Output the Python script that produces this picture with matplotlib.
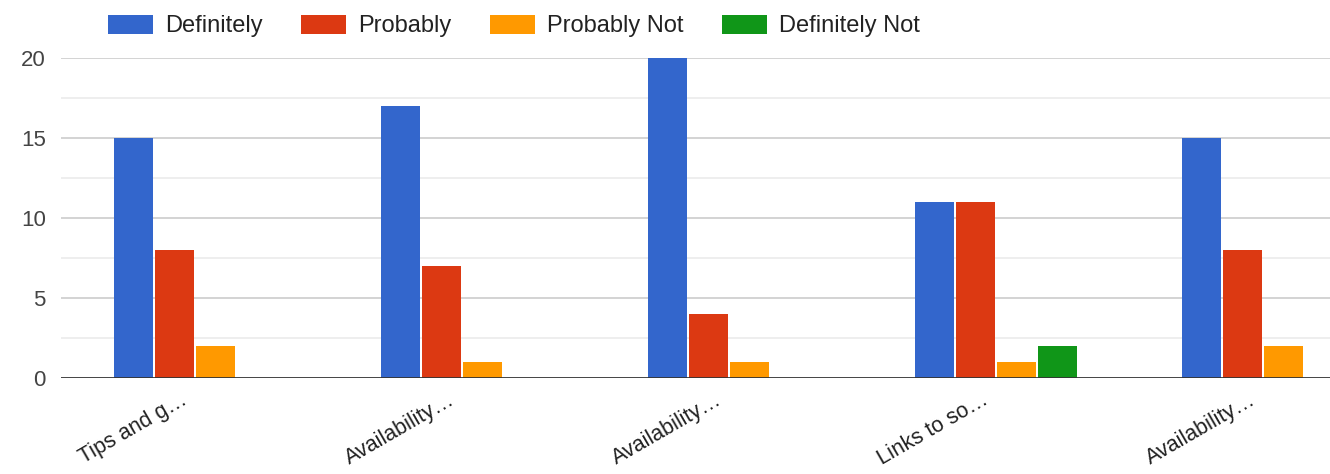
import matplotlib
matplotlib.use("Agg")
import matplotlib.pyplot as plt
import matplotlib.transforms as mtransforms
import numpy as np
from matplotlib.patches import Patch

plt.rcParams['font.family'] = ['Liberation Sans', 'DejaVu Sans']

categories = ["Tips and g\u2026", "Availability\u2026", "Availability\u2026",
              "Links to so\u2026", "Availability\u2026"]
series_names = ["Definitely", "Probably", "Probably Not", "Definitely Not"]
definitely = [15, 17, 20, 11, 15]
probably = [8, 7, 4, 11, 8]
probably_not = [2, 1, 1, 1, 2]
definitely_not = [0, 0, 0, 2, 0]
colors = ["#3366cc", "#dc3912", "#ff9900", "#109618"]

series = [definitely, probably, probably_not, definitely_not]

W, H = 1330, 474
fig = plt.figure(figsize=(W / 100, H / 100), dpi=100)
ax = fig.add_axes([61 / W, 1 - 378 / H, (W - 61) / W, 320 / H])

x = np.arange(len(categories))
slot = 41 / 267
bw = 39 / 267
for i, (vals, col) in enumerate(zip(series, colors)):
    offs = (i - 1.5) * slot
    ax.bar(x + offs, vals, width=bw, color=col, zorder=3, clip_on=False)

ax.set_xlim(-0.5, -0.5 + (W - 61) / 267)
ax.set_ylim(0, 20)

# grid lines: major every 5, minor every 2.5
for v in np.arange(2.5, 20, 5):
    ax.axhline(v, color="#ebebeb", lw=1.2, zorder=1)
for v in [5, 10, 15, 20]:
    ax.axhline(v, color="#cccccc", lw=1.2, zorder=1)
ax.axhline(0, color="#333333", lw=2, zorder=4)

for s in ax.spines.values():
    s.set_visible(False)

ax.set_yticks([0, 5, 10, 15, 20])
ax.set_yticklabels(["0", "5", "10", "15", "20"])
ax.tick_params(axis="y", length=0, pad=11, labelsize=16, labelcolor="#444444")

ax.set_xticks(x)
ax.set_xticklabels(categories, rotation=30, ha="right", rotation_mode="anchor",
                   fontsize=15.5, color="#222222")
ax.tick_params(axis="x", length=0, pad=8)
shift = mtransforms.ScaledTranslation(-14 / 100, 0, fig.dpi_scale_trans)
for lbl in ax.get_xticklabels():
    lbl.set_transform(lbl.get_transform() + shift)

handles = [Patch(facecolor=c, edgecolor="none") for c in colors]
fig.legend(handles, series_names, loc="center left",
           bbox_to_anchor=(108 / W, 1 - 26 / H), ncol=4, frameon=False,
           fontsize=17, handlelength=1.9, handleheight=0.85,
           handletextpad=0.5, columnspacing=1.65, borderpad=0,
           borderaxespad=0, labelcolor="#222222")

fig.savefig("out.png", dpi=100)
